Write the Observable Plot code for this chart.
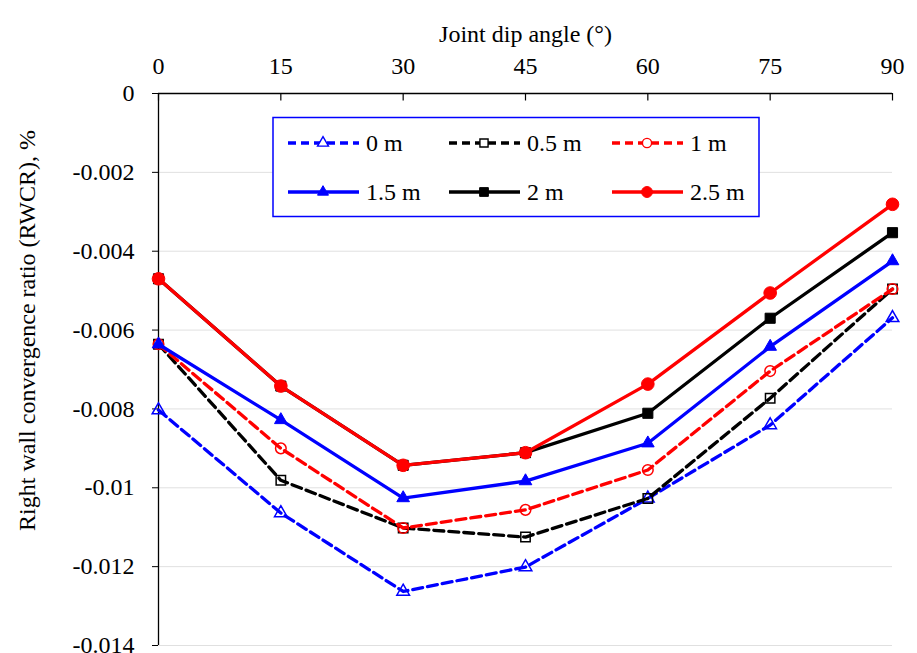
<!DOCTYPE html>
<html><head><meta charset="utf-8">
<script src="https://cdn.jsdelivr.net/npm/d3@7"></script>
<script src="https://cdn.jsdelivr.net/npm/@observablehq/plot@0.6"></script>
<style>
body{margin:0;background:#fff}
#wrap{position:relative;width:917px;height:653px;font-family:"Liberation Serif","Times New Roman",serif}
#wrap svg, #wrap svg text{font-family:"Liberation Serif","Times New Roman",serif !important}
#legend{position:absolute;left:0;top:0}
</style>
</head><body><div id="wrap"></div>
<script>
// ---- data ----
const angles = [0, 15, 30, 45, 60, 75, 90];
const seriesNames = ["0 m", "0.5 m", "1 m", "1.5 m", "2 m", "2.5 m"];
const s0m   = [-0.00803, -0.01064, -0.01263, -0.01201, -0.01027, -0.00841, -0.00569];
const s05m  = [-0.00636, -0.00981, -0.01102, -0.01125, -0.01027, -0.00773, -0.00496];
const s1m   = [-0.00636, -0.00900, -0.01102, -0.01056, -0.00955, -0.00704, -0.00496];
const s15m  = [-0.00636, -0.00828, -0.01026, -0.00983, -0.00887, -0.00642, -0.00425];
const s2m   = [-0.00470, -0.00742, -0.00943, -0.00911, -0.00811, -0.00570, -0.00353];
const s25m  = [-0.00470, -0.00742, -0.00943, -0.00911, -0.00737, -0.00506, -0.00281];
const yTicks = [0, -0.002, -0.004, -0.006, -0.008, -0.01, -0.012, -0.014];
const xLabel = "Joint dip angle (°)";
const yLabel = "Right wall convergence ratio (RWCR), %";

// ---- styles ----
const seriesValues = [s0m, s05m, s1m, s15m, s2m, s25m];
const styles = [
  {color: "#0000ff", dash: "10,5", symbol: "triangle", open: true,  r: 4.7},
  {color: "#000000", dash: "10,5", symbol: "square",   open: true,  r: 5.3},
  {color: "#ff0000", dash: "10,5", symbol: "circle",   open: true,  r: 5.3},
  {color: "#0000ff", dash: null,   symbol: "triangle", open: false, r: 4.7},
  {color: "#000000", dash: null,   symbol: "square",   open: false, r: 5.7},
  {color: "#ff0000", dash: null,   symbol: "circle",   open: false, r: 6.3}
];
const FONT = '"Liberation Serif","Times New Roman",serif';

const series = seriesNames.map((name, i) =>
  angles.map((a, j) => ({series: name, angle: a, value: seriesValues[i][j]})));

const fmt = d => d === 0 ? "0" : String(+d.toFixed(3));

const marks = [
  Plot.gridY(yTicks, {stroke: "#e0e0e0", strokeOpacity: 1, strokeWidth: 1}),
  Plot.ruleY([0], {stroke: "#000", strokeWidth: 1.3}),
  Plot.ruleX([0], {stroke: "#000", strokeWidth: 1.3}),
  Plot.ruleX(angles, {x: d => d, y1: 0, y2: -0.00019, stroke: "#000", strokeWidth: 1.2}),
  Plot.axisX(angles, {anchor: "top", tickSize: 0, tickPadding: 20, fontSize: 24, tickFormat: d => String(d), label: null}),
  Plot.axisY(yTicks, {anchor: "left", tickSize: 6, tickPadding: 18, fontSize: 24, tickFormat: fmt, label: null}),
  Plot.text([xLabel], {frameAnchor: "top", dy: -69, fontSize: 24, text: d => d}),
  Plot.text([yLabel], {frameAnchor: "left", dx: -131, dy: -39, rotate: -90, fontSize: 24,
    textAnchor: "middle", lineAnchor: "middle", text: d => d})
];
series.forEach((data, i) => {
  const st = styles[i];
  marks.push(Plot.line(data, {x: "angle", y: "value", stroke: st.color, strokeWidth: 3.3,
    strokeDasharray: st.dash || undefined}));
  marks.push(Plot.dot(data, {x: "angle", y: "value", symbol: st.symbol, r: st.r,
    fill: st.open ? "none" : st.color, stroke: st.color, strokeWidth: st.open ? 1.5 : 1}));
});

const chart = Plot.plot({
  width: 917, height: 653,
  marginLeft: 158, marginRight: 25, marginTop: 93, marginBottom: 8,
  style: {fontFamily: FONT, fontSize: "24px", color: "#000", background: "#fff", overflow: "visible"},
  x: {domain: [0, 90]},
  y: {domain: [-0.014, 0]},
  marks
});
document.getElementById("wrap").appendChild(chart);

// ---- legend (overlay) ----
const lg = d3.select("#wrap").append("svg").attr("id", "legend").attr("width", 917).attr("height", 653)
  .style("pointer-events", "none");
lg.append("rect").attr("x", 273).attr("y", 117.5).attr("width", 486).attr("height", 99)
  .attr("fill", "#fff").attr("stroke", "#0000ff").attr("stroke-width", 1.5);
const colX = [288, 449, 612];
const rowY = [143, 192];
seriesNames.forEach((name, i) => {
  const st = styles[i];
  const x0 = colX[i % 3], y = rowY[Math.floor(i / 3)];
  const g = lg.append("g");
  g.append("line").attr("x1", x0).attr("x2", x0 + 71).attr("y1", y).attr("y2", y)
    .attr("stroke", st.color).attr("stroke-width", 3.3).attr("stroke-dasharray", st.dash ? "8,5" : null);
  const sym = {triangle: d3.symbolTriangle, square: d3.symbolSquare, circle: d3.symbolCircle}[st.symbol];
  g.append("path").attr("transform", `translate(${x0 + 35},${y})`)
    .attr("d", d3.symbol(sym, Math.PI * st.r * st.r * 0.75)())
    .attr("fill", st.open ? "#fff" : st.color).attr("stroke", st.color).attr("stroke-width", st.open ? 1.4 : 1);
  g.append("text").attr("x", x0 + 78).attr("y", y).attr("dy", "0.35em")
    .attr("font-family", FONT).attr("font-size", 24).text(name);
});
</script>
</body></html>
